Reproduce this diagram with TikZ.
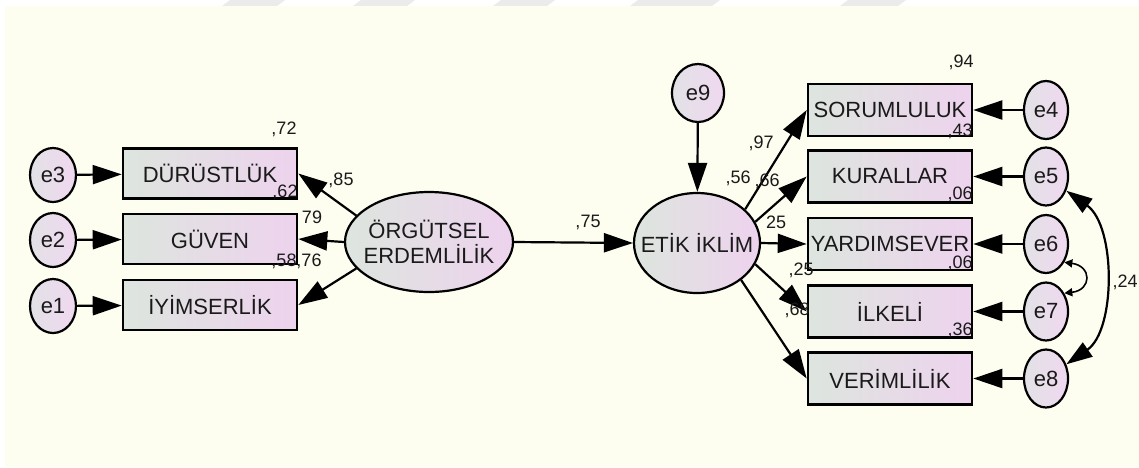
\documentclass[tikz,border=0pt]{standalone}
\usepackage{fontspec}
\setmainfont{Liberation Sans}
\usetikzlibrary{shapes.geometric,arrows.meta,calc}

\definecolor{paper}{HTML}{FDFEF0}
\definecolor{markgray}{HTML}{EBEBEB}
\definecolor{boxleft}{HTML}{DDE5DE}
\definecolor{boxright}{HTML}{EED3EE}
\definecolor{errleft}{HTML}{E2E2E6}
\definecolor{errright}{HTML}{F0D8F0}
\definecolor{ink}{HTML}{1A1A1A}

\tikzset{
  obsbox/.style={rectangle, draw=black, line width=2.6pt,
    left color=boxleft, right color=boxright,
    minimum height=50pt, inner sep=0pt, text=ink,
    font=\fontsize{22}{22}\selectfont},
  latent/.style={ellipse, draw=black, line width=2.2pt,
    left color=boxleft, right color=boxright, inner sep=0pt},
  lattext/.style={text=ink, align=center, inner sep=0pt,
    font=\fontsize{22}{25}\selectfont},
  errnode/.style={ellipse, draw=black, line width=2.2pt,
    left color=errleft, right color=errright,
    minimum width=46pt, minimum height=54pt, inner sep=0pt, text=ink,
    font=\fontsize{22}{22}\selectfont},
  regpath/.style={line width=2.2pt, -{Triangle[length=29pt,width=19pt]}},
  covpath/.style={line width=2.2pt, {Triangle[length=26pt,width=17pt]}-{Triangle[length=26pt,width=17pt]}},
  tinycov/.style={line width=1.6pt, {Triangle[length=8pt,width=8pt]}-{Triangle[length=8pt,width=8pt]}},
  est/.style={inner sep=0pt, text=ink, font=\fontsize{18}{18}\selectfont},
}

\begin{document}
\begin{tikzpicture}[x=1pt,y=-1pt]
\useasboundingbox (0,0) rectangle (1139,467);
\fill[white] (0,0) rectangle (1139,467);
% faint slanted marks along the top edge
\foreach \a/\b in {222/277,353/407,493/547,630/712,840/898}
  \fill[markgray] (\a,6) -- (\b,6) -- (\b+8,0) -- (\a+8,0) -- cycle;
\fill[paper] (5,6) rectangle (1139,467);

% ---- left block ----
\node[obsbox, minimum width=174pt] (dur) at (210,173.5) {DÜRÜSTLÜK};
\node[obsbox, minimum width=174pt] (guv) at (210,239) {GÜVEN};
\node[obsbox, minimum width=174pt] (iyi) at (210,305) {İYİMSERLİK};

\node[errnode] (e3) at (53,175) {e3};
\node[errnode] (e2) at (53,240) {e2};
\node[errnode] (e1) at (53,306) {e1};

\node[latent, minimum width=168pt, minimum height=100pt] (org) at (429,242) {};
\node[lattext] (orgt) at (org.center) {ÖRGÜTSEL\\ERDEMLİLİK};

% ---- right block ----
\node[latent, minimum width=126pt, minimum height=100pt] (etik) at (697,243) {};
\node[lattext] (etikt) at (etik.center) {ETİK İKLİM};
\node[errnode, minimum width=52pt, minimum height=58pt] (e9) at (698,93) {e9};

\node[obsbox, minimum width=164pt, minimum height=52pt] (sor) at (890,110) {SORUMLULUK};
\node[obsbox, minimum width=164pt, minimum height=52pt] (kur) at (890,176.5) {KURALLAR};
\node[obsbox, minimum width=164pt, minimum height=52pt] (yar) at (890,244) {YARDIMSEVER};
\node[obsbox, minimum width=164pt, minimum height=52pt] (ilk) at (890,311.5) {İLKELİ};
\node[obsbox, minimum width=164pt, minimum height=52pt] (ver) at (890,378.5) {VERİMLİLİK};

\node[errnode, minimum width=44pt, minimum height=58pt] (e4) at (1046,110) {e4};
\node[errnode, minimum width=44pt, minimum height=58pt] (e5) at (1046,176.5) {e5};
\node[errnode, minimum width=44pt, minimum height=58pt] (e6) at (1046,244) {e6};
\node[errnode, minimum width=44pt, minimum height=58pt] (e7) at (1046,311.5) {e7};
\node[errnode, minimum width=44pt, minimum height=58pt] (e8) at (1046,378.5) {e8};

% ---- paths ----
\draw[regpath] (e3) -- (dur);
\draw[regpath] (e2) -- (guv);
\draw[regpath] (e1) -- (iyi);

\draw[regpath] (org.160) -- (dur.east);
\draw[regpath] (org.west) -- (guv.east);
\draw[regpath] (org.200) -- (iyi.east);

\draw[regpath] (org.east) -- (etik.west);
\draw[regpath] (e9) -- (etik);

\draw[regpath] (etik.35) -- (sor.west);
\draw[regpath] (etik.20) -- (kur.west);
\draw[regpath] (etik.east) -- (yar.west);
\draw[regpath] (etik.-20) -- (ilk.west);
\draw[regpath] (etik.-40) -- (ver.west);

\draw[regpath] (e4) -- (sor);
\draw[regpath] (e5) -- (kur);
\draw[regpath] (e6) -- (yar);
\draw[regpath] (e7) -- (ilk);
\draw[regpath] (e8) -- (ver);

\draw[covpath] (e5.-35) .. controls (1116,226) and (1116,330) .. (e8.35);
\draw[tinycov] (e6.-45) .. controls (1092,266) and (1092,290) .. (e7.45);

% ---- estimates ----
\node[est] (r72) at (284,129) {,72};
\node[est] (l85) at (341,180) {,85};
\node[est] (r62) at (285,192) {,62};
\node[est] (l79) at (312,217) {79};
\node[est] (r58) at (284,261) {,58};
\node[est] (l76) at (309,261) {,76};
\node[est] (l75) at (588,222) {,75};
\node[est] (r56) at (738,178) {,56};
\node[est] (l97) at (761,143) {,97};
\node[est] (l66) at (767,181) {,66};
\node[est] (l25a) at (776,222) {25};
\node[est] (l25b) at (801,270) {,25};
\node[est] (l68) at (797,310) {,68};
\node[est] (r94) at (961,62) {,94};
\node[est] (r43) at (960,131) {,43};
\node[est] (r06a) at (960,194) {,06};
\node[est] (r06b) at (960,263) {,06};
\node[est] (r36) at (960,330) {,36};
\node[est] (c24) at (1125,282) {,24};
\end{tikzpicture}
\end{document}
